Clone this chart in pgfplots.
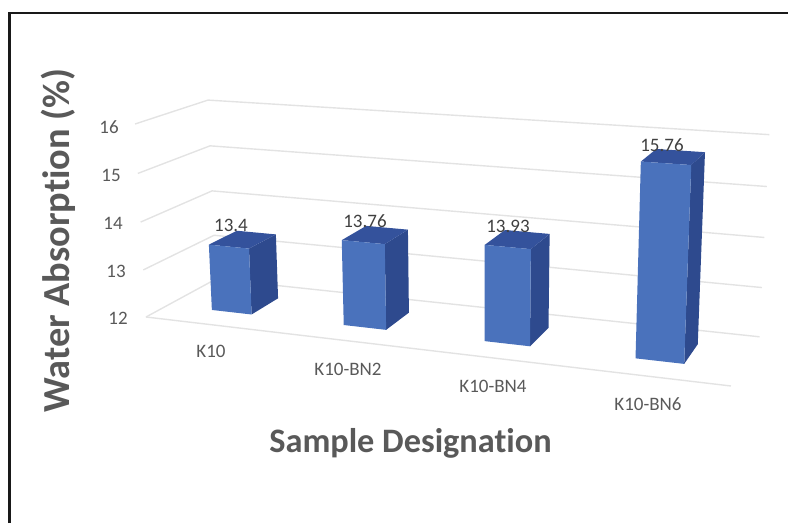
\documentclass[border=0pt]{standalone}
\usepackage{pgfplots}
\usepackage{pgfplotstable}
\usepackage{fontspec}
\setmainfont[Ligatures=NoCommon]{Carlito}
\pgfplotsset{compat=1.18}

\definecolor{barfront}{HTML}{4A72BC}
\definecolor{barside}{HTML}{2E4A8E}
\definecolor{bartop}{HTML}{34529C}
\definecolor{gridgrey}{HTML}{E3E3E3}
\definecolor{ticktext}{HTML}{595959}
\definecolor{valuetext}{HTML}{404040}

% Corners of a unit column: s = side (-1 left, +1 right), d = depth, t = 0 floor, 1 top
\pgfplotstableread{
s d t
-1 0.30 0
1 0.30 0
1 0.30 1
-1 0.30 1
}\frontface
\pgfplotstableread{
s d t
1 0.30 0
1 0.71 0
1 0.71 1
1 0.30 1
}\sideface
\pgfplotstableread{
s d t
-1 0.30 1
1 0.30 1
1 0.71 1
-1 0.71 1
}\topface

% Wall and floor outline for one value level
\pgfplotstableread{
u d
0 0
0 1
1 1
}\gridpath

\newcommand{\barhw}{0.0385}
\newcommand{\face}[4]{%
  \addplot[fill=#1,draw=none,no markers,forget plot] table[
    x expr={px(#3+\thisrow{s}*\barhw,\thisrow{d},12+\thisrow{t}*(#4-12))},
    y expr={py(#3+\thisrow{s}*\barhw,\thisrow{d},12+\thisrow{t}*(#4-12))}
  ] {#2};}
\newcommand{\column}[2]{%
  \face{barside}{\sideface}{#1}{#2}
  \face{bartop}{\topface}{#1}{#2}
  \face{barfront}{\frontface}{#1}{#2}}
\newcommand{\gridlevel}[1]{%
  \addplot[gridgrey,line width=1.4pt,no markers,forget plot] table[
    x expr={px(\thisrow{u},\thisrow{d},#1)},
    y expr={py(\thisrow{u},\thisrow{d},#1)}
  ] {\gridpath};}

\begin{document}
\begin{tikzpicture}
\useasboundingbox (0,0) rectangle (788pt,523pt);
\begin{axis}[
  scale only axis,width=788pt,height=523pt,
  xmin=0,xmax=788,ymin=0,ymax=523,y dir=reverse,
  axis lines=none,
  % perspective projection of (slot, depth, value) onto the page
  declare function={
    wt(\a,\b,\c)=1-0.13*\a+0.083*\b-0.032*(\c-12)/4;
    px(\a,\b,\c)=(146+489.97*\a+87.93*\b-15.32*(\c-12)/4)/wt(\a,\b,\c);
    py(\a,\b,\c)=(317+18.82*\a-14.84*\b-196.97*(\c-12)/4)/wt(\a,\b,\c);
  },
]
% outer frame
\addplot[black!90,line width=2.7pt,no markers,forget plot] coordinates {(9.5,523) (9.5,13) (788,13)};

% value levels on the walls
\gridlevel{12}\gridlevel{13}\gridlevel{14}\gridlevel{15}\gridlevel{16}
% front edge of the floor
\addplot[gridgrey,line width=1.4pt,no markers,forget plot] table[
  x expr={px(\thisrow{u},0,12)},y expr={py(\thisrow{u},0,12)}] {
u
0
1
};

% columns: slot centre, water absorption
\column{0.125}{13.40}
\column{0.375}{13.76}
\column{0.625}{13.93}
\column{0.875}{15.76}

% value axis labels
\begin{scope}[every node/.style={font=\fontsize{19}{22}\selectfont,text=ticktext,inner sep=0pt}]
\node at (axis cs:109,127) {16};
\node at (axis cs:111,175) {15};
\node at (axis cs:113,223) {14};
\node at (axis cs:116,271) {13};
\node at (axis cs:118,318) {12};
\node at (axis cs:211,351) {K10};
\node at (axis cs:348,369) {K10-BN2};
\node at (axis cs:493,386) {K10-BN4};
\node at (axis cs:648,404) {K10-BN6};
\end{scope}

% labels over the columns
\begin{scope}[every node/.style={font=\fontsize{19}{22}\selectfont,text=valuetext,inner sep=0pt}]
\node at (axis cs:231,225) {13.4};
\node at (axis cs:365,221) {13.76};
\node at (axis cs:508,226) {13.93};
\node at (axis cs:662,145) {15.76};
\end{scope}

% axis titles
\node[font=\fontsize{34.3}{38}\selectfont\bfseries,text=ticktext,inner sep=0pt] at (axis cs:410.5,443) {Sample Designation};
\node[font=\fontsize{38.3}{42}\selectfont\bfseries,text=ticktext,inner sep=0pt,rotate=90] at (axis cs:58,240.5) {Water Absorption (\%)};
\end{axis}
\end{tikzpicture}
\end{document}
